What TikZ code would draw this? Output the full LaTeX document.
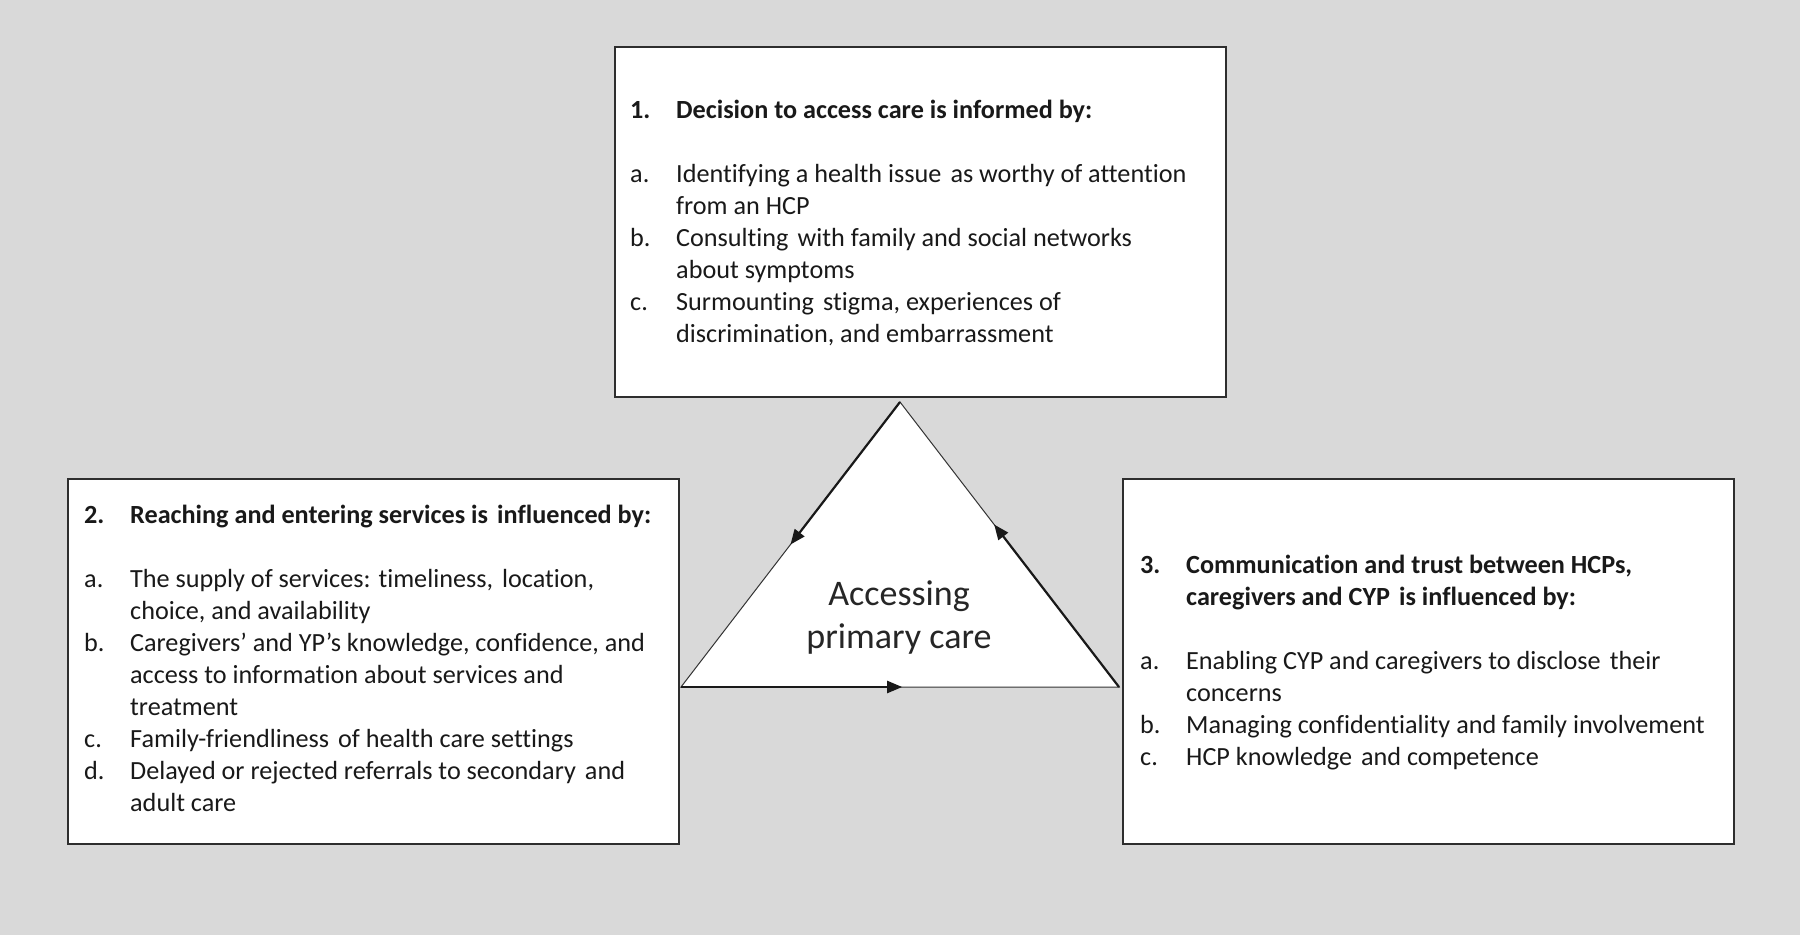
\documentclass[tikz,border=0pt]{standalone}
\usepackage{fontspec}
\setmainfont{Carlito}[Ligatures=NoCommon]
\usetikzlibrary{arrows.meta,calc}
\newcommand{\xs}{\hspace{0.12em}}
\tikzset{
  box/.style={draw=black!82, line width=1.7pt, fill=white, anchor=north west, inner sep=0pt},
  body/.style={anchor=base west, inner sep=0pt, text=black!90, font=\fontsize{26.2}{32}\selectfont},
  tri/.style={draw=black!80, line width=1pt, fill=white, line join=miter},
  flow/.style={draw=black!90, line width=2.2pt, -{Triangle[length=15pt,width=12pt]}},
  centre/.style={align=center, inner sep=0pt, text=black!85, font=\fontsize{36}{43}\selectfont}
}
\begin{document}
\begin{tikzpicture}[x=1pt,y=-1pt]
\fill[black!15] (0,0) rectangle (1800,935);
\useasboundingbox (0,0) rectangle (1800,935);

% boxes
\node[box, minimum width=611pt, minimum height=350pt] (b1) at (614,46) {};
\node[box, minimum width=611pt, minimum height=365pt] (b2) at (67,478) {};
\node[box, minimum width=611pt, minimum height=365pt] (b3) at (1122,478) {};

% texts
\node[body] (t1) at (630,118) {\begin{tabular}[t]{@{}p{46pt}@{}l@{}}
\textbf{1.} & \textbf{Decision to access care is informed by:}\\
 & \\
a. & Identifying a health issue\xs{} as worthy of attention\\
 & from an HCP\\
b. & Consulting\xs{} with family and social networks\\
 & about symptoms\\
c. & Surmounting\xs{} stigma, experiences of\\
 & discrimination, and embarrassment
\end{tabular}};

\node[body] (t2) at (84,523) {\begin{tabular}[t]{@{}p{46pt}@{}l@{}}
\textbf{2.} & \textbf{Reaching and entering services is\xs{} influenced by:}\\
 & \\
a. & The supply of services: timeliness,\xs{} location,\\
 & choice, and availability\\
b. & Caregivers’ and YP’s knowledge, confidence, and\\
 & access to information about services and\\
 & treatment\\
c. & Family-friendliness\xs{} of health care settings\\
d. & Delayed or rejected referrals to secondary\xs{} and\\
 & adult care
\end{tabular}};

\node[body] (t3) at (1140,573) {\begin{tabular}[t]{@{}p{46pt}@{}l@{}}
\textbf{3.} & \textbf{Communication and trust between HCPs,}\\
 & \textbf{caregivers and CYP\xs{} is influenced by:}\\
 & \\
a. & Enabling CYP and caregivers to disclose\xs{} their\\
 & concerns\\
b. & Managing confidentiality and family involvement\\
c. & HCP knowledge\xs{} and competence
\end{tabular}};

% triangle
\coordinate (A) at (900,402);
\coordinate (B) at (681,687);
\coordinate (C) at (1119,687);
\draw[tri] (A) -- (B) -- (C) -- cycle;
\draw[flow] (A) -- ($(A)!0.50!(B)$);
\draw[flow] (C) -- ($(C)!0.57!(A)$);
\draw[flow] (B) -- ($(B)!0.505!(C)$);
\node[centre] (tc) at (899,618) {Accessing\\primary care};
\end{tikzpicture}
\end{document}
